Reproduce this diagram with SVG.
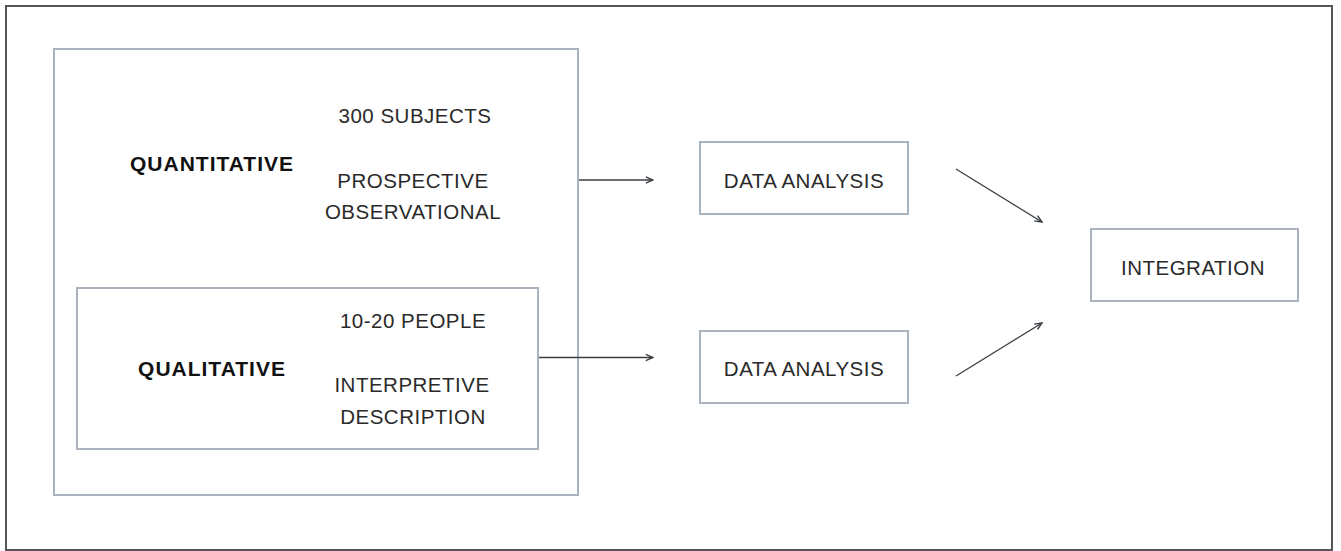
<svg xmlns="http://www.w3.org/2000/svg" width="1341" height="551" viewBox="0 0 1341 551">
<defs>
<style>
.frame{fill:#fff;stroke:#555;stroke-width:2}
.box{fill:#fff;stroke:#aab4be;stroke-width:2}
.lbl{font-family:"Liberation Sans",Arial,sans-serif;font-size:20.5px;letter-spacing:0.5px;fill:#2a2a2a;text-anchor:middle}
.bold{font-weight:bold;font-size:21px;letter-spacing:1px;fill:#111}
.conn{stroke:#3a3f44;stroke-width:1.3;fill:none}
</style>
<marker id="arr" viewBox="0 0 10 10" refX="9" refY="5" markerWidth="9" markerHeight="9" markerUnits="userSpaceOnUse" orient="auto">
<path d="M1,1.5 L9,5 L1,8.5" fill="none" stroke="#3a3f44" stroke-width="1.6"/>
</marker>
</defs>
<rect x="0" y="0" width="1341" height="551" fill="#fff"/>
<rect class="frame" x="6" y="6" width="1326" height="544"/>
<g id="quantitative">
<rect class="box" x="54" y="49" width="524" height="446"/>
<text class="lbl bold" x="212" y="171">QUANTITATIVE</text>
<text class="lbl" x="415" y="123">300 SUBJECTS</text>
<text class="lbl" x="413" y="188">PROSPECTIVE</text>
<text class="lbl" x="413" y="219">OBSERVATIONAL</text>
</g>
<g id="qualitative">
<rect class="box" x="77" y="288" width="461" height="161"/>
<text class="lbl bold" x="212" y="376">QUALITATIVE</text>
<text class="lbl" x="413" y="328">10-20 PEOPLE</text>
<text class="lbl" x="412" y="392">INTERPRETIVE</text>
<text class="lbl" x="413" y="424">DESCRIPTION</text>
</g>
<g id="analysis1">
<rect class="box" x="700" y="142" width="208" height="72"/>
<text class="lbl" x="804" y="188">DATA ANALYSIS</text>
</g>
<g id="analysis2">
<rect class="box" x="700" y="331" width="208" height="72"/>
<text class="lbl" x="804" y="376">DATA ANALYSIS</text>
</g>
<g id="integration">
<rect class="box" x="1091" y="229" width="207" height="72"/>
<text class="lbl" x="1193" y="275">INTEGRATION</text>
</g>
<g id="connectors">
<line class="conn" x1="579" y1="180" x2="653" y2="180" marker-end="url(#arr)"/>
<line class="conn" x1="539" y1="357.5" x2="653" y2="357.5" marker-end="url(#arr)"/>
<line class="conn" x1="956" y1="169" x2="1042" y2="222" marker-end="url(#arr)"/>
<line class="conn" x1="956" y1="376" x2="1042" y2="323" marker-end="url(#arr)"/>
</g>
</svg>
